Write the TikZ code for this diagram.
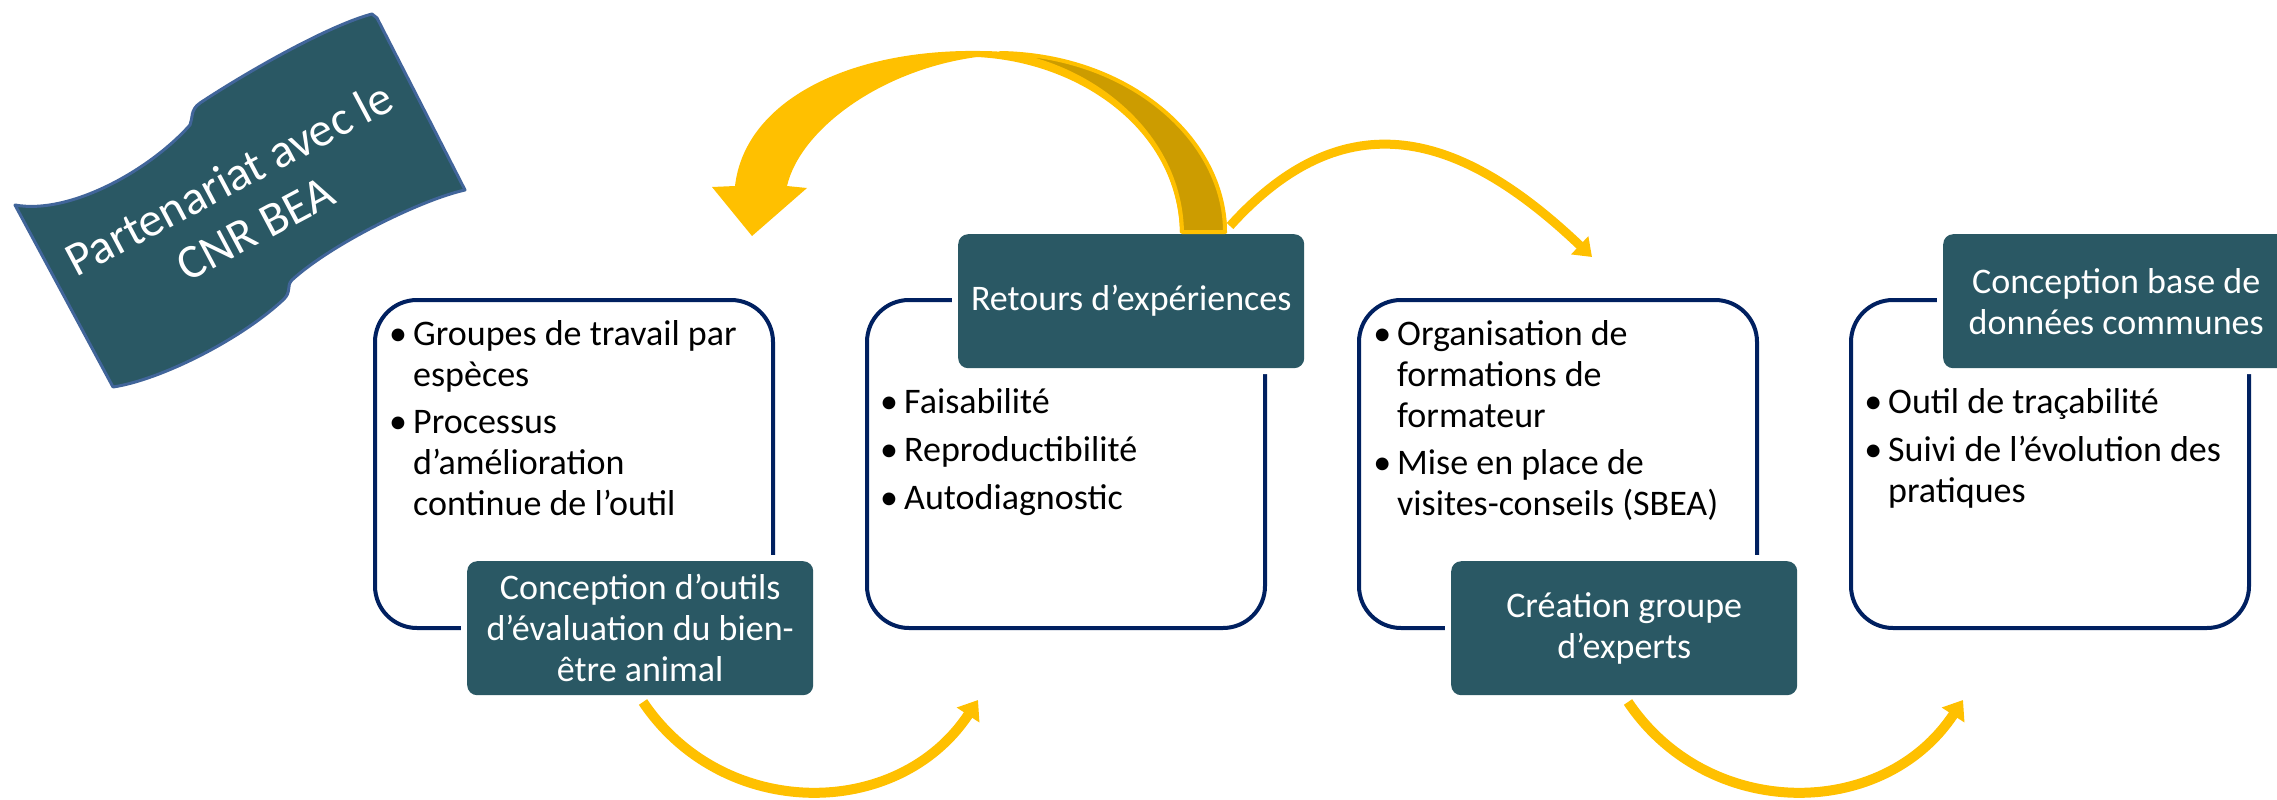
\documentclass[tikz,border=0pt]{standalone}
\usepackage{fontspec}
\setmainfont{Carlito}
\usetikzlibrary{arrows.meta}
\definecolor{tealbox}{HTML}{2A5864}
\definecolor{navy}{HTML}{002060}
\definecolor{yel}{HTML}{FFC000}
\definecolor{gold}{HTML}{CC9C00}
\definecolor{bannerline}{HTML}{41659A}
\newcommand\bl{\makebox[30pt][c]{•}}
\begin{document}
\begin{tikzpicture}[x=1pt,y=-1pt,
  wbox/.style={draw=navy, line width=4pt, rounded corners=42pt, minimum width=398pt, minimum height=328pt, inner sep=0pt, outer sep=0pt, anchor=north west},
  dbox/.style={fill=tealbox, rounded corners=10pt, minimum width=346pt, minimum height=134pt, inner sep=0pt, anchor=north west, text=white, align=center, font=\fontsize{36}{41}\selectfont, preaction={draw=white, line width=12pt}},
  bul/.style={anchor=base west, inner sep=0pt, font=\fontsize{36}{41}\selectfont},
  arr/.style={draw=yel, line width=10pt, -{Triangle[length=18pt,width=26pt]}},
  arrthin/.style={draw=yel, line width=9pt, -{Triangle[length=17pt,width=24pt]}}
]
\useasboundingbox[fill=white] (0,0) rectangle (2277,800);

% banner
\path[fill=tealbox, draw=bannerline, line width=3pt, line join=round]
  (15,205) .. controls (70,215) and (150,170) .. (190,125)
  .. controls (193,118) and (190,110) .. (200,103)
  .. controls (250,70) and (330,25) .. (372,14)
  -- (377,18) -- (465,190)
  .. controls (420,200) and (330,245) .. (292,280)
  .. controls (286,286) and (292,292) .. (283,300)
  .. controls (240,340) and (160,380) .. (113,387)
  -- cycle;
\node[rotate=28, text=white, align=center, font=\fontsize{48}{56}\selectfont] (banner) at (242,203) {Partenariat avec le\\CNR BEA};

% white boxes
\node[wbox] (w1) at (375,300) {};
\node[wbox] (w2) at (867,300) {};
\node[wbox] (w3) at (1359,300) {};
\node[wbox] (w4) at (1851,300) {};

% dark boxes
\node[dbox] (d1) at (467,561) {Conception d’outils\\d’évaluation du bien-\\être animal};
\node[dbox] (d2) at (958,234) {Retours d’expériences};
\node[dbox] (d3) at (1451,561) {Création groupe\\d’experts};
\node[dbox] (d4) at (1943,234) {Conception base de\\données communes};

% bullet texts
\node[bul] (t1) at (383,345) {\begin{tabular}[t]{@{}l@{}l@{}}\bl & Groupes de travail par\\ & espèces\\[6pt] \bl & Processus\\ & d’amélioration\\ & continue de l’outil\end{tabular}};
\node[bul] (t2) at (874,413) {\begin{tabular}[t]{@{}l@{}l@{}}\bl & Faisabilité\\[7pt] \bl & Reproductibilité\\[7pt] \bl & Autodiagnostic\end{tabular}};
\node[bul] (t3) at (1367,345) {\begin{tabular}[t]{@{}l@{}l@{}}\bl & Organisation de\\ & formations de\\ & formateur\\[6pt] \bl & Mise en place de\\ & visites-conseils (SBEA)\end{tabular}};
\node[bul] (t4) at (1858,413) {\begin{tabular}[t]{@{}l@{}l@{}}\bl & Outil de traçabilité\\[7pt] \bl & Suivi de l’évolution des\\ & pratiques\end{tabular}};

% connector end points
\coordinate (rs) at (1230,226);
\coordinate (re) at (1592,257);
\coordinate (c1s) at (643,702);
\coordinate (c1e) at (978,700);
\coordinate (c2s) at (1628,702);
\coordinate (c2e) at (1963,700);

% small top arrow
\draw[arrthin] (rs) .. controls (1352,91) and (1470,141) .. (re);

% big curved arrow
\path[fill=yel] (1227,233) .. controls (1227,140) and (1110,51) .. (980,51)
  .. controls (850,49) and (745,100) .. (735,186) -- (712,187) -- (752,236) -- (807,188) -- (787,186)
  .. controls (800,130) and (880,70) .. (977,57)
  .. controls (1080,62) and (1178,130) .. (1180,233) -- cycle;
\path[fill=gold, draw=yel, line width=4pt, line join=round]
  (1000,53) .. controls (1130,55) and (1225,140) .. (1225,232) -- (1182,232)
  .. controls (1180,130) and (1085,62) .. (1000,53) -- cycle;

% bottom arrows
\draw[arr] (c1s) .. controls (723,821) and (898,821) .. (c1e);
\draw[arr] (c2s) .. controls (1708,821) and (1883,821) .. (c2e);
\end{tikzpicture}
\end{document}
